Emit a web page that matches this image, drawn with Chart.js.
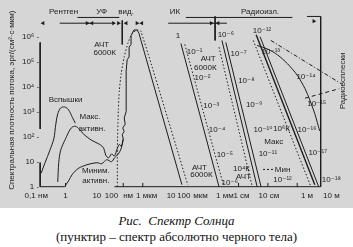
<!DOCTYPE html>
<html lang="ru">
<head>
<meta charset="utf-8">
<script src="https://cdn.jsdelivr.net/npm/chart.js@4.4.1/dist/chart.umd.min.js"></script>
<style>
  html, body { margin: 0; padding: 0; background: #fff; }
  #wrap { width: 353px; height: 208px; background: #d6d6d6; }
  .caption {
    font-family: "Liberation Serif", "DejaVu Serif", serif;
    font-size: 13px;
    line-height: 16px;
    text-align: center;
    color: #111;
    padding-top: 5px;
  }
</style>
</head>
<body>
<div id="wrap"><canvas id="sun" width="353" height="208"></canvas></div>
<div class="caption"><i>Рис.&nbsp; Спектр Солнца</i><br>(пунктир – спектр абсолютно черного тела)</div>
<script>
// x — положение на склеенной шкале длин волн рисунка, y — lg плотности потока (декады)
const yTickValues = [0, 1, 2, 3, 4, 5, 6];
const yTickLabels = ["1", "10", "10²", "10³", "10⁴", "10⁵", "10⁶"];
const yTitle = "Спектральная плотность потока, эрг/(см²·с·мкм)";

const wavelengthTicks = [33, 63, 95, 110, 127, 146, 171, 184, 201, 226, 243, 271, 310, 335];
const wavelengthLabels = ["0,1 нм", "1", "10", "100", "нм", "1 мкм", "10", "100", "мкм", "1 мм", "1 см", "10 см", "1 м", "10 м"];
const axisTickMarks = [63, 122, 142, 240, 270, 300];

const bandNames = ["Рентген", "УФ", "вид.", "ИК", "Радиоизл."];
const bandCenters = [61, 100, 125, 175, 262];

// рентген / УФ
const flare = [[38, 0.54], [42, 0.96], [47, 1.46], [51, 1.92], [53, 2.5], [55, 2.92], [58, 3.15], [62, 3.19], [66, 3.08], [70, 2.77], [73, 2.54]];
const maxActivity = [[55, 0.19], [56, 0.96], [58, 1.46], [63, 1.92], [68, 2.31], [72, 2.42], [76, 2.35], [82, 2.08], [90, 1.85], [98, 1.69], [102, 1.54], [104, 1.27], [107, 1.15], [110, 1.31], [113, 1.23], [116, 1.54], [118, 1.69], [120, 1.62], [122, 1.9]];
const minActivity = [[62, 0], [66, 0.23], [70, 0.5], [76, 0.73], [85, 0.88], [95, 0.96], [100, 0.92], [105, 1.08], [110, 1.0], [113, 1.15], [117, 1.31], [120, 1.54], [122, 1.9]];
const sunVisible = [[122, 1.9], [121, 2.1], [123, 2.2], [121.5, 2.35], [124, 2.5], [123, 2.75], [125, 3.0], [125, 4.62], [126, 5.08], [128, 5.19], [128, 5.58], [130, 5.69], [130, 6.04], [133, 6.27], [136, 6.27], [138, 6.15], [182, 0.08]];
const blackBody6000 = [[116, 0], [116, 1.54], [117, 3.08], [118, 3.85], [120, 4.54], [123, 5.19], [127, 5.77], [131, 6.12], [136, 6.27], [140, 6.23], [188, 0.08]];

// ИК
const irSun = [[181, 5.73], [220, 0]];
const irBlackBody = [[185, 5.69], [225, 0]];

// субмм / см
const mmSunA = [[223, 5.85], [259, 0]];
const mmSunB = [[227, 5.77], [263, 0]];
const mmBlackBody = [[220, 5.58], [254, 0]];

// радио
const radioSunA = [[258, 6.08], [318, 0.08]];
const radioSunB = [[262, 6.0], [322, 0]];
const radioBlackBody = [[255, 5.85], [314, 0]];
const radioQuiet = [[259, 5.65], [270, 5.5], [280, 5.27], [290, 4.92], [300, 4.46], [308, 3.92], [313, 3.46], [318, 2.92], [323, 2.23]];
const burstA = [[273, 5.85], [345, 4.12]];
const burstB = [[308, 3.54], [343, 3.92]];

const ink = "#1c1c1c";
const font = "8px 'Liberation Sans', 'DejaVu Sans', sans-serif";

function line(data, extra) {
  return Object.assign({
    data: data.map(([x, y]) => ({ x, y })),
    showLine: true,
    pointRadius: 0,
    borderColor: ink,
    borderWidth: 1,
    tension: 0,
  }, extra || {});
}
const dotted = { borderDash: [1.5, 2] };

// рамка, шкалы, скобки диапазонов
const frame = [
  line([[37, 5.77], [37, 2.31]]),
  line([[37, 0.96], [37, 0]]),
  line([[37, 0], [62, 0]]),
  line([[113, 0], [324, 0]]),
  line([[324, 6.81], [324, 0]]),
  line([[310, 6.81], [324, 6.81]]),
  line([[75, 6.77], [118, 6.77]]),
  line([[186, 6.77], [295, 6.77]]),
  line([[57, 6.54], [112, 6.54]]),
  line([[168, 6.54], [228, 6.54]]),
  line([[121, 6.65], [121, 5.69]]),
  line([[216, 6.81], [216, 5.85]]),
  line([[265, 0.69], [277, 0.69]], { borderDash: [2, 2] }),
  ...axisTickMarks.map((t) => line([[t, 0], [t, 0.15]])),
];

const arrowsRight = [[85, 6.54], [112, 6.54], [117, 6.54], [136, 6.54], [212, 6.54], [317, 6.62]];
const arrowsLeft = [[40, 6.54], [90, 6.54], [125, 6.54], [141, 6.54], [219, 6.54]];

const notes = [
  ["АЧТ", 100, 5.69], ["6000К", 103, 5.35],
  ["Вспышки", 63, 3.46],
  ["Макс.", 88, 2.81], ["активн.", 90, 2.31],
  ["Миним.", 94, 0.65], ["активн.", 94, 0.23],
  ["1", 178, 6.04], ["10⁻¹", 195, 5.38], ["АЧТ", 209, 5.12], ["6000К", 206, 4.77],
  ["10⁻²", 203, 4.35], ["10⁻³", 212, 3.23], ["10⁻⁴", 218, 2.27], ["10⁻⁵", 226, 1.27], ["10⁻⁶", 231, 0.15],
  ["АЧТ", 200, 0.77], ["6000К", 202, 0.46],
  ["10⁻⁶", 227, 6.08], ["10⁻⁷", 240, 5.31], ["10⁻⁸", 248, 4.23], ["10⁻⁹", 256, 3.27],
  ["10⁻¹⁰", 265, 2.27], ["10⁶К", 284, 2.31], ["Макс", 276, 1.81], ["10⁻¹¹", 270, 1.31],
  ["10⁴К", 243, 0.73], ["АЧТ", 245, 0.38], ["Мин", 285, 0.69], ["10⁻¹²", 285, 0.27],
  ["10⁻¹²", 264, 6.23], ["10⁻¹³", 273, 5.38], ["10⁻¹⁴", 309, 4.38], ["10⁻¹⁵", 320, 3.31],
  ["10⁻¹⁶", 310, 2.27], ["10⁻¹⁷", 321, 1.35], ["10⁻¹⁸", 335, 0.27],
];

const textPlugin = {
  id: "notes",
  afterDatasetsDraw(chart) {
    const { ctx } = chart;
    const x = chart.scales.x;
    const y = chart.scales.y;
    ctx.save();
    ctx.fillStyle = ink;
    ctx.font = font;
    ctx.textBaseline = "middle";

    // подписи оси y
    ctx.textAlign = "right";
    yTickValues.forEach((v, i) => {
      ctx.fillText(yTickLabels[i] + " -", x.getPixelForValue(36), y.getPixelForValue(v));
    });

    // подписи шкалы длин волн
    ctx.textAlign = "center";
    wavelengthTicks.forEach((t, i) => {
      ctx.fillText(wavelengthLabels[i], x.getPixelForValue(t), y.getPixelForValue(-0.38));
    });

    // диапазоны
    bandNames.forEach((n, i) => {
      ctx.fillText(n, x.getPixelForValue(bandCenters[i]), y.getPixelForValue(7.0));
    });

    notes.forEach(([t, nx, ny]) => {
      ctx.fillText(t, x.getPixelForValue(nx), y.getPixelForValue(ny));
    });

    // повернутые надписи
    ctx.save();
    ctx.translate(x.getPixelForValue(8), y.getPixelForValue(3.46));
    ctx.rotate(-Math.PI / 2);
    ctx.fillText(yTitle, 0, 0);
    ctx.restore();

    ctx.save();
    ctx.translate(x.getPixelForValue(347), y.getPixelForValue(4.23));
    ctx.rotate(-Math.PI / 2);
    ctx.fillText("Радиовсплески", 0, 0);
    ctx.restore();

    ctx.restore();
  },
};

new Chart(document.getElementById("sun"), {
  type: "scatter",
  data: {
    datasets: [
      ...frame,
      line(flare, { tension: 0.3 }),
      line(maxActivity, { tension: 0.3 }),
      line(minActivity, { tension: 0.3 }),
      line(sunVisible),
      line(blackBody6000, Object.assign({ tension: 0.2 }, dotted)),
      line(irSun),
      line(irBlackBody, dotted),
      line(mmSunA),
      line(mmSunB),
      line(mmBlackBody, dotted),
      line(radioSunA, { borderWidth: 1.4 }),
      line(radioSunB),
      line(radioBlackBody, dotted),
      line(radioQuiet, { tension: 0.3 }),
      line(burstA, { borderDash: [4, 2, 1, 2] }),
      line(burstB, { borderDash: [4, 3] }),
      {
        data: arrowsRight.map(([x, y]) => ({ x, y })),
        pointStyle: "triangle",
        rotation: 90,
        pointRadius: 2.5,
        backgroundColor: ink,
        borderColor: ink,
        borderWidth: 0,
      },
      {
        data: arrowsLeft.map(([x, y]) => ({ x, y })),
        pointStyle: "triangle",
        rotation: -90,
        pointRadius: 2.5,
        backgroundColor: ink,
        borderColor: ink,
        borderWidth: 0,
      },
    ],
  },
  options: {
    responsive: false,
    animation: false,
    layout: { padding: 0 },
    scales: {
      x: { type: "linear", display: false, min: 0, max: 353 },
      y: { type: "linear", display: false, min: -0.692, max: 7.308 },
    },
    plugins: {
      legend: { display: false },
      tooltip: { enabled: false },
    },
  },
  plugins: [textPlugin],
});
</script>
</body>
</html>
